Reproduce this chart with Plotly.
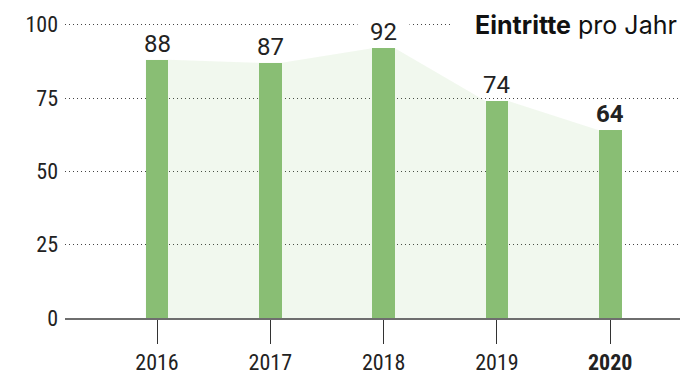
import plotly.graph_objects as go

years = [2016, 2017, 2018, 2019, 2020]
values = [88, 87, 92, 74, 64]
tick_labels = ["2016", "2017", "2018", "2019", "<b>2020</b>"]
value_labels = ["88", "87", "92", "74", "<b>64</b>"]
y_ticks = [0, 25, 50, 75, 100]

BAR_COLOR = "#8cbf78"
FILL_COLOR = "rgba(120,190,90,0.1)"
TEXT = "#222222"
HALF = 0.1
TICK_FONT = "Liberation Sans Narrow, Roboto Condensed, Roboto, sans-serif"
LABEL_FONT = "Roboto, sans-serif"
TITLE_FONT = "Inter, Roboto, sans-serif"

# area polygon following bar edges
fx, fy = [], []
for yr, v in zip(years, values):
    fx += [yr - HALF, yr + HALF]
    fy += [v, v]

fig = go.Figure()
fig.add_trace(go.Scatter(
    x=fx, y=fy, mode="lines", line=dict(width=0, color=FILL_COLOR),
    fill="tozeroy", fillcolor=FILL_COLOR, hoverinfo="skip", showlegend=False))
fig.add_trace(go.Bar(
    x=years, y=values, width=2 * HALF, marker=dict(color=BAR_COLOR, line=dict(width=0)),
    showlegend=False))

for yr, v, lab in zip(years, values, value_labels):
    near_grid = v >= 90  # label would sit on the 100 gridline
    fig.add_annotation(x=yr, y=v,
                       text=("&nbsp;&nbsp;" + lab + "&nbsp;&nbsp;") if near_grid else lab,
                       showarrow=False, yanchor="bottom", yshift=1,
                       bgcolor="white" if near_grid else "rgba(0,0,0,0)", borderpad=0,
                       font=dict(family=LABEL_FONT, size=24, color=TEXT))

fig.add_annotation(xref="paper", yref="y", x=1, y=100, xanchor="right", yanchor="middle",
                   text="&nbsp;&nbsp;&nbsp;<b>Eintritte</b> pro Jahr", showarrow=False,
                   bgcolor="white", borderpad=2, xshift=0,
                   font=dict(family=TITLE_FONT, size=25, color="#111111"))

fig.update_layout(
    width=680, height=374,
    margin=dict(l=65, r=0, t=10, b=56),
    plot_bgcolor="white", paper_bgcolor="white",
    bargap=0,
    xaxis=dict(range=[2015.188, 2020.616], tickvals=years, ticktext=tick_labels,
               showgrid=False, zeroline=False, showline=True, linecolor="#6e6e6e",
               linewidth=2, ticks="outside", ticklen=24, tickwidth=1, tickcolor="#333333",
               tickfont=dict(family=TICK_FONT, size=22, color=TEXT)),
    yaxis=dict(range=[0, 105], tickvals=y_ticks, showgrid=True, gridcolor="#444444",
               gridwidth=1, griddash="1px,3px", zeroline=False, showline=False,
               ticks="", ticklabelstandoff=6,
               tickfont=dict(family=TICK_FONT, size=22, color=TEXT)),
)

fig.write_html("out.html")
